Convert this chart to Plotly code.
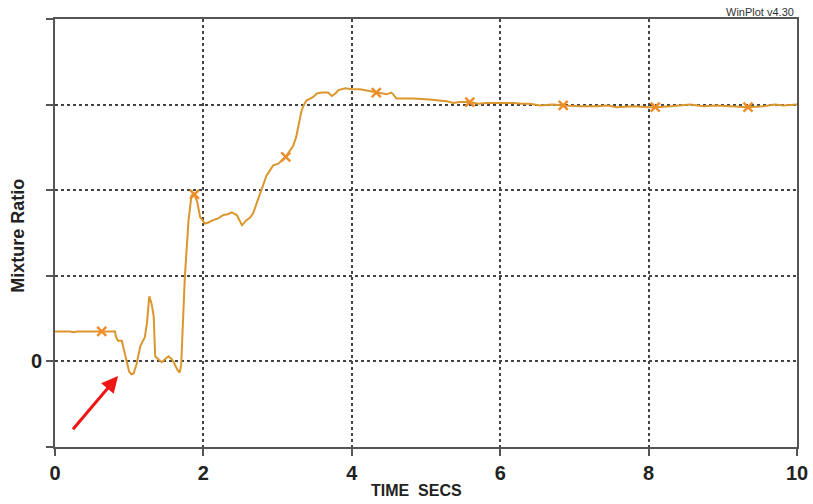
import plotly.graph_objects as go

# ---- data ----
time_s = [0.00, 0.20, 0.25, 0.30, 0.50, 0.63, 0.81, 0.82, 0.85, 0.90, 0.93, 0.96, 1.00, 1.03, 1.06,
          1.10, 1.15, 1.21, 1.24, 1.27, 1.30, 1.33, 1.35, 1.40, 1.44, 1.49, 1.53, 1.57, 1.60, 1.65,
          1.68, 1.70, 1.72, 1.73, 1.75, 1.80, 1.84, 1.88, 1.92, 1.955, 2.02, 2.06, 2.13, 2.20, 2.27,
          2.33, 2.38, 2.45, 2.52, 2.58, 2.63, 2.67, 2.72, 2.76, 2.85, 2.94, 3.01, 3.11, 3.21, 3.25,
          3.28, 3.32, 3.35, 3.39, 3.44, 3.48, 3.53, 3.60, 3.68, 3.73, 3.78, 3.82, 3.91, 4.00, 4.11,
          4.22, 4.33, 4.40, 4.47, 4.53, 4.56, 4.60, 4.83, 5.05, 5.28, 5.37, 5.45, 5.59, 5.70, 5.82,
          5.90, 6.00, 6.18, 6.30, 6.40, 6.54, 6.70, 6.85, 7.08, 7.30, 7.45, 7.57, 7.80, 8.00, 8.09,
          8.30, 8.56, 8.74, 8.90, 9.10, 9.34, 9.55, 9.70, 9.82, 10.00]
mixture = [0.35, 0.35, 0.34, 0.35, 0.35, 0.35, 0.35, 0.29, 0.24, 0.24, 0.12, 0.00, -0.12, -0.15, -0.14,
           -0.03, 0.18, 0.28, 0.45, 0.76, 0.68, 0.53, 0.06, 0.02, -0.01, 0.03, 0.06, 0.03, -0.01, -0.10,
           -0.13, -0.05, 0.35, 0.68, 0.99, 1.65, 1.94, 1.95, 1.85, 1.69, 1.61, 1.62, 1.65, 1.67, 1.71,
           1.72, 1.74, 1.71, 1.59, 1.65, 1.68, 1.73, 1.85, 1.96, 2.17, 2.29, 2.31, 2.39, 2.52, 2.62,
           2.77, 2.92, 2.99, 3.05, 3.07, 3.09, 3.13, 3.14, 3.14, 3.10, 3.13, 3.17, 3.19, 3.18, 3.18,
           3.16, 3.14, 3.13, 3.12, 3.14, 3.12, 3.07, 3.07, 3.06, 3.04, 3.02, 3.03, 3.03, 3.01, 3.02,
           3.02, 3.02, 3.02, 3.01, 3.01, 2.99, 3.00, 2.99, 2.98, 2.98, 2.99, 2.97, 2.98, 2.97, 2.97,
           2.98, 3.00, 2.98, 2.99, 2.98, 2.97, 2.98, 3.00, 2.99, 3.00]

marker_t = [0.63, 1.88, 3.11, 4.33, 5.59, 6.85, 8.09, 9.34]
marker_v = [0.35, 1.95, 2.39, 3.14, 3.03, 2.99, 2.97, 2.97]

x_ticks = [0, 2, 4, 6, 8, 10]
y_ticks = [-1, 0, 1, 2, 3, 4]
y_tick_text = ["", "0", "", "", "", ""]

# arrow (tail -> head) in data units
arrow_tail = (0.225, -0.81)
arrow_head = (0.85, -0.17)

FONT = "Arial, Liberation Sans, sans-serif"
AX = "#555555"

fig = go.Figure()
fig.add_trace(go.Scatter(x=time_s, y=mixture, mode="lines",
                         line=dict(color="#DB962E", width=2), hoverinfo="skip", showlegend=False))
fig.add_trace(go.Scatter(x=marker_t, y=marker_v, mode="markers",
                         marker=dict(symbol="x-thin", size=9, line=dict(color="#EE8E2A", width=2.5)),
                         hoverinfo="skip", showlegend=False))

fig.add_annotation(x=arrow_head[0], y=arrow_head[1], ax=arrow_tail[0], ay=arrow_tail[1],
                   xref="x", yref="y", axref="x", ayref="y", text="", showarrow=True,
                   arrowhead=2, arrowsize=1.1, arrowwidth=3, arrowcolor="#F01515")

fig.add_annotation(x=(416 - 55) / 742, y=(447.3 - 491) / 428.3, xref="paper", yref="paper",
                   text="TIME\u00a0\u00a0SECS", showarrow=False, xanchor="center", yanchor="middle",
                   font=dict(family=FONT, size=16, color="#222222", weight="bold"))
fig.add_annotation(x=(18 - 55) / 742, y=(447.3 - 236) / 428.3, xref="paper", yref="paper",
                   text="Mixture Ratio", textangle=-90, showarrow=False,
                   xanchor="center", yanchor="middle",
                   font=dict(family=FONT, size=18, color="#222222", weight="bold"))
fig.add_annotation(x=(760 - 55) / 742, y=(447.3 - 12) / 428.3, xref="paper", yref="paper",
                   text="WinPlot v4.30", showarrow=False, xanchor="center", yanchor="middle",
                   font=dict(family=FONT, size=11, color="#333333"))

fig.update_xaxes(range=[0, 10], tickvals=x_ticks, ticks="outside", ticklen=7, tickwidth=1.5,
                 tickcolor=AX, showline=True, linecolor=AX, linewidth=2, mirror=True,
                 showgrid=True, gridcolor="#444444", griddash="dot", gridwidth=1.5,
                 zeroline=False, automargin=False,
                 tickfont=dict(family=FONT, size=20, color="#222222", weight="bold"))
fig.update_yaxes(range=[-1, 4], tickvals=y_ticks, ticktext=y_tick_text, ticks="outside", ticklen=7,
                 tickwidth=1.5, tickcolor=AX, showline=True, linecolor=AX, linewidth=2, mirror=True,
                 showgrid=True, gridcolor="#444444", griddash="dot", gridwidth=1.5,
                 zeroline=False, automargin=False,
                 tickfont=dict(family=FONT, size=20, color="#222222", weight="bold"))

fig.update_layout(width=813, height=504,
                  margin=dict(l=55, r=16, t=19, b=57, autoexpand=False),
                  plot_bgcolor="white", paper_bgcolor="white")

fig.write_html("out.html")
